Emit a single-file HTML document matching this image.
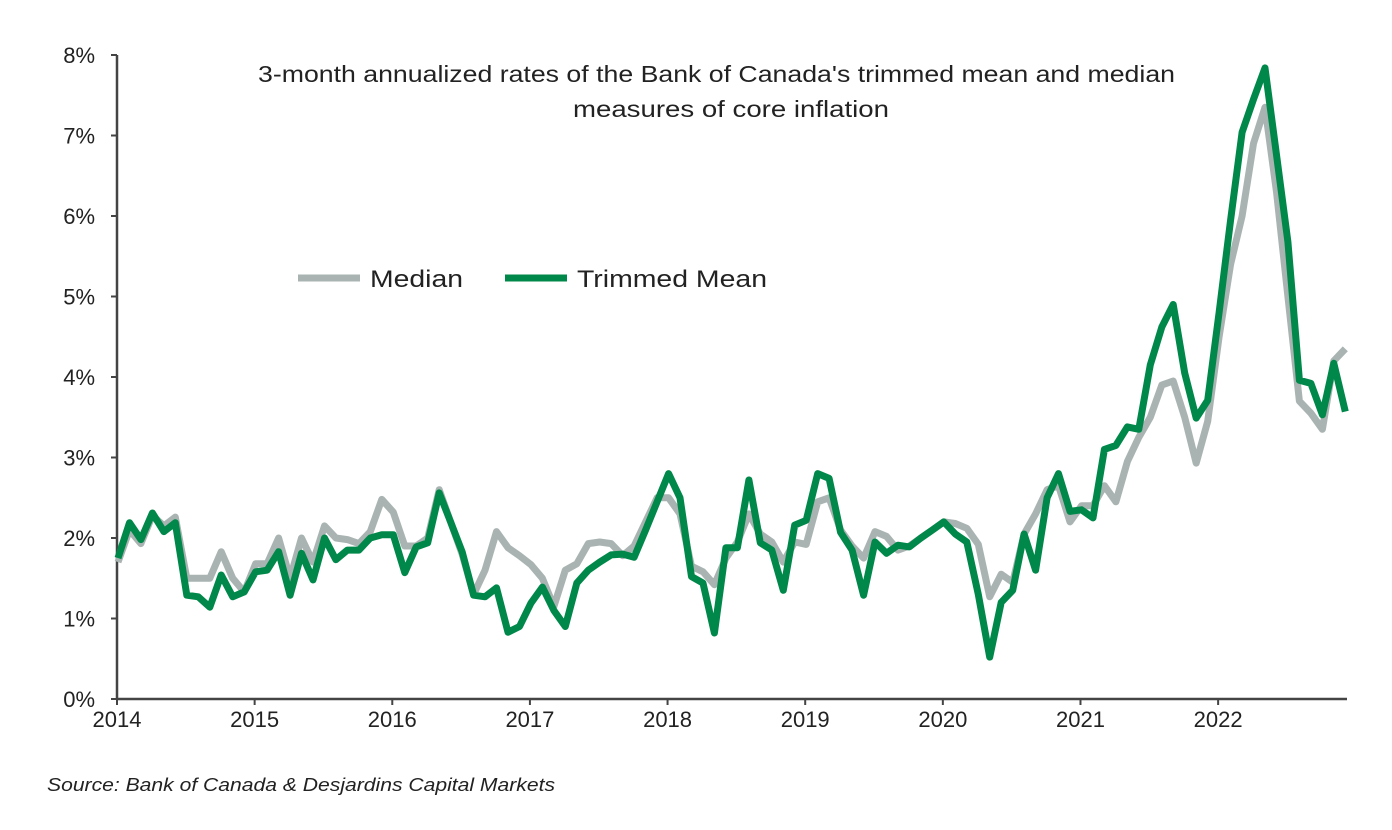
<!DOCTYPE html>
<html><head><meta charset="utf-8">
<style>
body{margin:0;background:#fff;}
svg{display:block;font-family:"Liberation Sans",sans-serif;}
</style></head>
<body>
<svg id="chart" width="1392" height="830" viewBox="0 0 1392 830">
<rect x="0" y="0" width="1392" height="830" fill="#fff"/>
<text x="258" y="82" font-size="23" fill="#222" textLength="917" lengthAdjust="spacingAndGlyphs">3-month annualized rates of the Bank of Canada's trimmed mean and median</text>
<text x="573" y="117" font-size="23" fill="#222" textLength="316" lengthAdjust="spacingAndGlyphs">measures of core inflation</text>
<g id="yaxis"></g>
<g id="xaxis"></g>
<g id="series"></g>
<g>
<line x1="298" y1="278" x2="360" y2="278" stroke="#a9b4b2" stroke-width="7"/>
<text x="370" y="287" font-size="24" fill="#222" textLength="93" lengthAdjust="spacingAndGlyphs">Median</text>
<line x1="505" y1="278" x2="567" y2="278" stroke="#00884a" stroke-width="7"/>
<text x="577" y="287" font-size="24" fill="#222" textLength="190" lengthAdjust="spacingAndGlyphs">Trimmed Mean</text>
</g>
<text x="47" y="791" font-size="18" font-style="italic" fill="#222" textLength="508" lengthAdjust="spacingAndGlyphs">Source: Bank of Canada &amp; Desjardins Capital Markets</text>
</svg>
<script>
const yTicks=[0,1,2,3,4,5,6,7,8];
const yearLabels=["2014","2015","2016","2017","2018","2019","2020","2021","2022"];
const median=[1.7,2.1,1.93,2.28,2.15,2.26,1.5,1.5,1.5,1.83,1.5,1.33,
1.68,1.68,2.0,1.5,2.0,1.7,2.15,2.0,1.98,1.93,2.08,2.48,
2.32,1.9,1.9,2.0,2.6,2.2,1.8,1.3,1.6,2.08,1.88,1.78,
1.67,1.5,1.15,1.6,1.68,1.93,1.95,1.93,1.78,1.9,2.2,2.5,
2.5,2.3,1.65,1.58,1.42,1.75,1.95,2.3,2.05,1.95,1.7,1.95,
1.92,2.45,2.5,2.1,1.9,1.75,2.08,2.02,1.85,1.9,2.0,2.1,
2.2,2.18,2.12,1.92,1.27,1.55,1.45,2.05,2.3,2.6,2.65,2.2,
2.4,2.4,2.65,2.45,2.95,3.25,3.5,3.9,3.95,3.5,2.93,3.45,
4.5,5.4,6.0,6.9,7.35,6.3,5.0,3.7,3.55,3.35,4.2,4.35];
const trimmed=[1.75,2.19,1.98,2.31,2.08,2.19,1.29,1.27,1.14,1.54,1.27,1.33,
1.58,1.6,1.83,1.29,1.81,1.48,2.0,1.73,1.85,1.85,2.0,2.04,
2.04,1.57,1.89,1.94,2.56,2.2,1.83,1.29,1.27,1.38,0.83,0.9,
1.19,1.39,1.1,0.9,1.44,1.6,1.7,1.79,1.8,1.76,2.1,2.45,
2.8,2.5,1.52,1.44,0.82,1.88,1.88,2.72,1.94,1.85,1.35,2.16,
2.22,2.8,2.74,2.07,1.85,1.29,1.95,1.81,1.91,1.89,2.0,2.1,
2.2,2.05,1.95,1.3,0.52,1.2,1.35,2.05,1.6,2.5,2.8,2.33,
2.35,2.25,3.1,3.15,3.38,3.35,4.15,4.62,4.9,4.05,3.49,3.71,
4.8,5.95,7.04,7.45,7.84,6.76,5.68,3.96,3.92,3.53,4.17,3.57];
const NS="http://www.w3.org/2000/svg";
const X0=118, MW=11.47, Y0=699, YU=80.5;
function xs(i){return X0+i*MW;}
function ys(v){return Y0-v*YU;}
function mk(tag,attrs,parent){const e=document.createElementNS(NS,tag);for(const k in attrs)e.setAttribute(k,attrs[k]);parent.appendChild(e);return e;}
const ya=document.getElementById('yaxis'), xa=document.getElementById('xaxis'), sg=document.getElementById('series');
let l=mk('line',{x1:117,y1:ys(8),x2:117,y2:Y0,stroke:'#444','stroke-width':2.5},ya);


yTicks.forEach(v=>{
 const t=mk('line',{x1:111,y1:ys(v),x2:117,y2:ys(v),stroke:'#444','stroke-width':2},ya);
 
 
 const tx=mk('text',{x:95,y:ys(v)+8,'text-anchor':'end','font-size':22,fill:'#222'},ya);
 tx.textContent=v+'%';
 
 
});
l=mk('line',{x1:116,y1:Y0,x2:1347,y2:Y0,stroke:'#444','stroke-width':2.5},xa);


yearLabels.forEach((y,k)=>{
 const x=xs(k*12)-1;
 const t=mk('line',{x1:x,y1:Y0,x2:x,y2:Y0+6,stroke:'#444','stroke-width':2},xa);
 
 
 const tx=mk('text',{x:x,y:727,'text-anchor':'middle','font-size':22,fill:'#222'},xa);
 tx.textContent=y;
 
 
});
function path(arr){return arr.map((v,i)=>(i?'L':'M')+xs(i).toFixed(1)+' '+ys(v).toFixed(1)).join(' ');}
const pm=mk('path',{d:path(median),fill:'none',stroke:'#a9b4b2','stroke-width':7,'stroke-linejoin':'round'},sg);


const pt=mk('path',{d:path(trimmed),fill:'none',stroke:'#00884a','stroke-width':7,'stroke-linejoin':'round'},sg);


</script>
</body></html>
